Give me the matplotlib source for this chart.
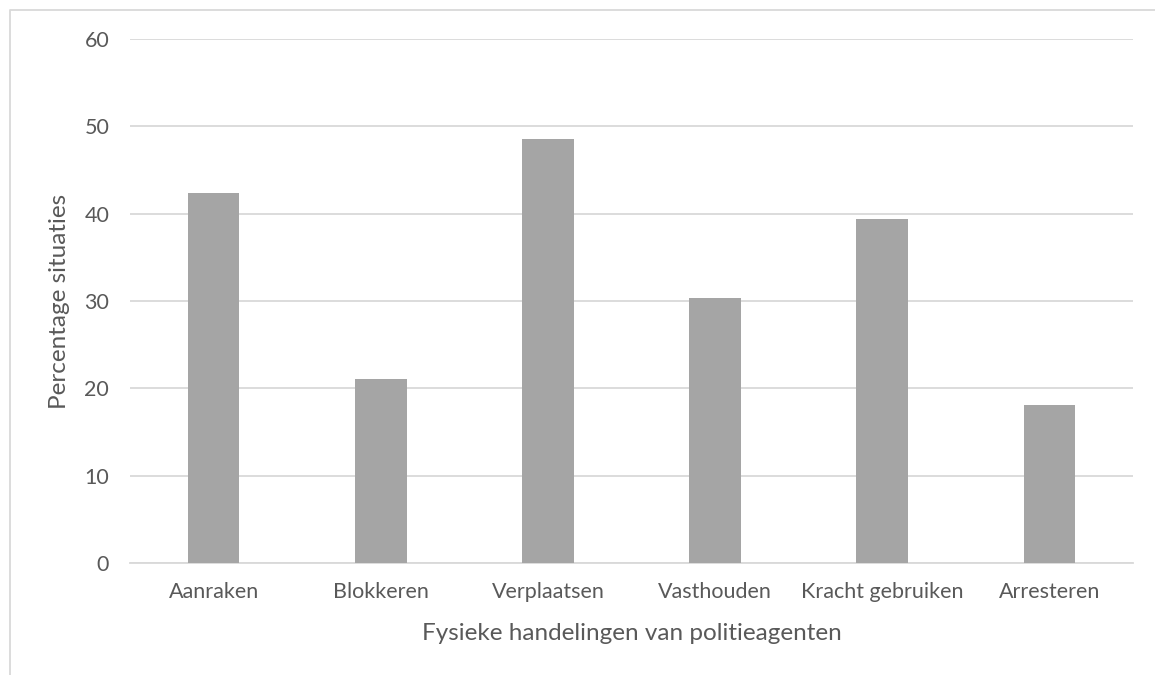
import matplotlib
matplotlib.use("Agg")
import matplotlib.pyplot as plt
from matplotlib.lines import Line2D

# data
categories = ["Aanraken", "Blokkeren", "Verplaatsen", "Vasthouden",
              "Kracht gebruiken", "Arresteren"]
percentages = [42.4, 21.1, 48.5, 30.3, 39.4, 18.1]
y_ticks = [0, 10, 20, 30, 40, 50, 60]

text_col = "#595959"
grid_col = "#D9D9D9"
bar_col = "#A5A5A5"

plt.rcParams["font.family"] = ["Lato", "DejaVu Sans"]

W, H = 1155, 675
fig = plt.figure(figsize=(W / 100, H / 100), dpi=100)
ax = fig.add_axes([130 / W, (H - 563) / H, 1003 / W, 524 / H])

x = list(range(len(categories)))
ax.bar(x, percentages, width=0.31, color=bar_col, zorder=3)

ax.set_xlim(-0.5, len(categories) - 0.5)
ax.set_ylim(0, 60)
ax.set_yticks(y_ticks)
ax.set_xticks(x)
ax.set_xticklabels(categories)

ax.yaxis.grid(True, color=grid_col, linewidth=1.3, zorder=0)
ax.set_axisbelow(True)
for side in ["top", "right", "left"]:
    ax.spines[side].set_visible(False)
ax.spines["bottom"].set_color(grid_col)
ax.spines["bottom"].set_linewidth(1.3)

ax.tick_params(axis="both", length=0, labelsize=15.5, labelcolor=text_col)
ax.tick_params(axis="x", pad=14)
ax.tick_params(axis="y", pad=15)

ax.set_xlabel("Fysieke handelingen van politieagenten", fontsize=17.5,
              color=text_col, va="center")
ax.xaxis.set_label_coords(0.5, (563 - 633) / 524)
ax.set_ylabel("Percentage situaties", fontsize=17.5, color=text_col, va="center")
ax.yaxis.set_label_coords((60 - 130) / 1003, 0.5)

# light chart-area border (only left and top visible in the crop)
fig.add_artist(Line2D([10 / W, 10 / W, 1.0], [0.0, 1 - 10 / H, 1 - 10 / H],
                      transform=fig.transFigure, color=grid_col, linewidth=1.3))

fig.savefig("out.png", dpi=100, facecolor="white")
